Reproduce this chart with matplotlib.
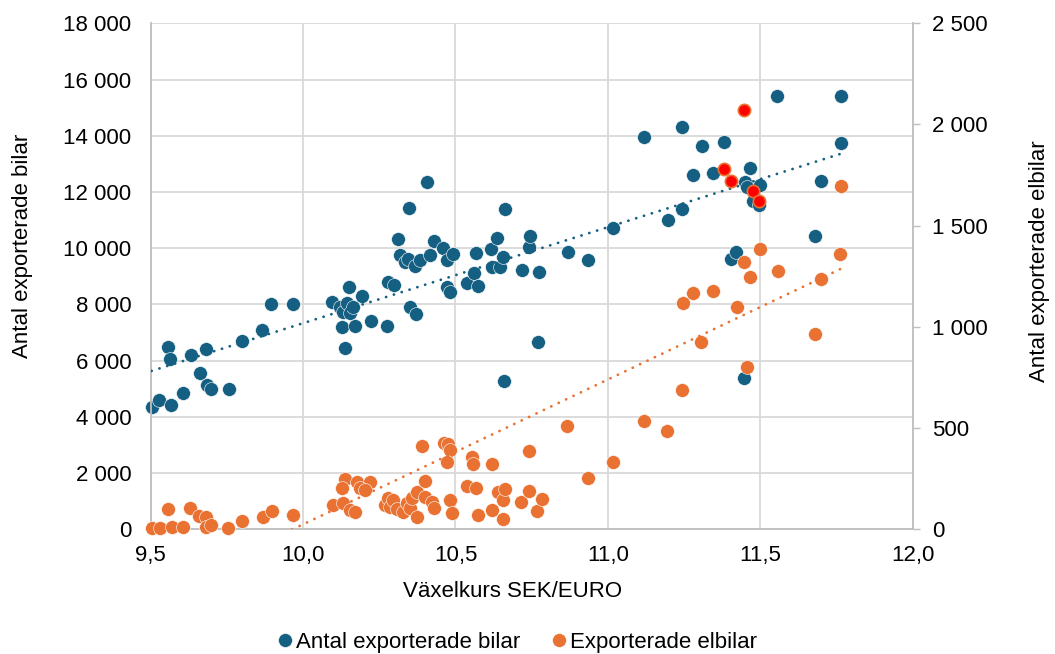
import matplotlib
matplotlib.use("Agg")
import matplotlib.pyplot as plt
from matplotlib.lines import Line2D
from matplotlib.ticker import FuncFormatter, MultipleLocator
import numpy as np

# Växelkurs SEK/EURO och antal exporterade bilar (vänster axel)
bilar_kurs = [
    9.503, 9.529, 9.566, 9.606, 9.558, 9.564, 9.631, 9.680, 9.662, 9.684,
    9.697, 9.756, 9.799, 9.866, 9.895, 9.966,
    10.094, 10.121, 10.132, 10.143, 10.152, 10.154, 10.165, 10.192, 10.127, 10.170,
    10.223, 10.274, 10.137, 10.280, 10.299, 10.311, 10.318, 10.334, 10.345, 10.348,
    10.367, 10.384, 10.405, 10.416, 10.430, 10.460, 10.471, 10.493, 10.350, 10.372,
    10.471, 10.482, 10.537, 10.560, 10.566, 10.575, 10.616, 10.620, 10.637, 10.646,
    10.655, 10.663, 10.659, 10.717, 10.742, 10.745, 10.775, 10.770,
    10.868, 10.935, 11.017, 11.117, 11.196, 11.242, 11.244, 11.280, 11.310, 11.345,
    11.380, 11.404, 11.420, 11.447, 11.450, 11.456, 11.465, 11.475, 11.497, 11.500,
    11.556, 11.680, 11.700, 11.764, 11.764,
]
bilar_antal = [
    4350, 4600, 4430, 4850, 6500, 6060, 6190, 6400, 5570, 5140,
    5000, 4980, 6690, 7100, 8020, 8020,
    8100, 7920, 7740, 8040, 8630, 7680, 7920, 8300, 7210, 7230,
    7410, 7230, 6460, 8810, 8690, 10330, 9760, 9520, 9600, 11440,
    9370, 9580, 12340, 9760, 10270, 9990, 9580, 9790, 7920, 7650,
    8630, 8450, 8770, 9100, 9840, 8650, 9980, 9340, 10350, 9340,
    9700, 11380, 5290, 9220, 10050, 10430, 9160, 6670,
    9870, 9580, 10720, 13940, 11000, 14300, 11380, 12610, 13650, 12690,
    13770, 9600, 9870, 5370, 12360, 12190, 12860, 11680, 11540, 12240,
    15410, 10440, 12390, 15410, 13750,
]

# Exporterade elbilar (höger axel)
elbil_kurs = [
    9.503, 9.530, 9.569, 9.607, 9.558, 9.629, 9.660, 9.680, 9.683, 9.697,
    9.755, 9.799, 9.870, 9.897, 9.966,
    10.099, 10.132, 10.154, 10.170, 10.138, 10.176, 10.220, 10.127, 10.187, 10.203,
    10.269, 10.280, 10.285, 10.296, 10.307, 10.329, 10.340, 10.351, 10.356, 10.373,
    10.373, 10.389, 10.400, 10.400, 10.422, 10.428, 10.461, 10.477, 10.482, 10.471,
    10.482, 10.490, 10.537, 10.553, 10.558, 10.567, 10.575, 10.619, 10.621, 10.640,
    10.657, 10.657, 10.662, 10.714, 10.742, 10.742, 10.769, 10.783,
    10.865, 10.936, 11.016, 11.117, 11.195, 11.244, 11.245, 11.280, 11.306, 11.346,
    11.425, 11.447, 11.457, 11.466, 11.500, 11.557, 11.680, 11.700, 11.760, 11.764,
]
elbil_antal = [
    5, 5, 13, 13, 99, 104, 66, 59, 13, 21,
    5, 42, 62, 92, 71,
    120, 128, 95, 87, 247, 235, 235, 203, 203, 194,
    120, 153, 109, 145, 99, 87, 131, 104, 153, 186,
    59, 413, 240, 158, 136, 104, 428, 421, 392, 334,
    145, 82, 214, 359, 323, 203, 71, 95, 324, 186,
    49, 145, 198, 136, 387, 191, 92, 148,
    510, 252, 334, 537, 486, 688, 1120, 1169, 924, 1179,
    1097, 1319, 803, 1248, 1387, 1276, 963, 1235, 1360, 1698,
]

# Markerade elbilsmånader (röda, ingår i elbilsserien)
mark_kurs = [11.447, 11.380, 11.405, 11.477, 11.497]
mark_elbil = [2072, 1782, 1722, 1673, 1624]

BLUE = "#156082"
ORANGE = "#E97132"
GRID = "#D9D9D9"
AXIS = "#BFBFBF"
FS = 16

plt.rcParams["font.family"] = ["Liberation Sans", "DejaVu Sans"]

fig = plt.figure(figsize=(10.55, 6.54), dpi=100)
ax = fig.add_axes([0.1428, 0.1907, 0.7223, 0.7737])
ax2 = ax.twinx()

ax.set_axisbelow(True)
ax.scatter(bilar_kurs, bilar_antal, s=100, c=BLUE, edgecolors="white",
           linewidths=0.4, zorder=2, clip_on=False)
ax2.scatter(elbil_kurs, elbil_antal, s=100, c=ORANGE, edgecolors="white",
            linewidths=0.4, zorder=2, clip_on=False)
ax2.scatter(mark_kurs, mark_elbil, s=78, c="#FF0000", edgecolors=ORANGE,
            linewidths=1.2, zorder=3, clip_on=False)

# linjära trendlinjer
dots = (0, (0.05, 2.9))
bx = np.array([min(bilar_kurs), max(bilar_kurs)])
k, m = np.polyfit(bilar_kurs, bilar_antal, 1)
ax.plot(bx, k * bx + m, color=BLUE, lw=2, linestyle=dots,
        dash_capstyle="round", zorder=4)
alla_kurs = elbil_kurs + mark_kurs
alla_elbil = elbil_antal + mark_elbil
ex = np.array([min(alla_kurs), max(alla_kurs)])
k2, m2 = np.polyfit(alla_kurs, alla_elbil, 1)
ax2.plot(ex, k2 * ex + m2, color=ORANGE, lw=2, linestyle=dots,
         dash_capstyle="round", zorder=4)

ax.set_xlim(9.5, 12.0)
ax.set_ylim(0, 18000)
ax2.set_ylim(0, 2500)
ax.xaxis.set_major_locator(MultipleLocator(0.5))
ax.yaxis.set_major_locator(MultipleLocator(2000))
ax2.yaxis.set_major_locator(MultipleLocator(500))

space_fmt = FuncFormatter(lambda v, _: f"{v:,.0f}".replace(",", " "))
ax.yaxis.set_major_formatter(space_fmt)
ax2.yaxis.set_major_formatter(space_fmt)
ax.xaxis.set_major_formatter(FuncFormatter(lambda v, _: f"{v:.1f}".replace(".", ",")))

ax.grid(True, color=GRID, lw=1.3)
ax.tick_params(axis="both", length=0, labelsize=FS)
ax.tick_params(axis="y", pad=14)
ax.tick_params(axis="x", pad=11)
ax2.tick_params(axis="y", length=5, width=1, color=AXIS, direction="out",
                labelsize=FS, pad=9)

for name, sp in ax.spines.items():
    sp.set_visible(name in ("left", "bottom"))
    sp.set_color(AXIS)
    sp.set_linewidth(1.3)
for name, sp in ax2.spines.items():
    sp.set_visible(name == "right")
    sp.set_color(AXIS)
    sp.set_linewidth(1.3)

ax.set_xlabel("Växelkurs SEK/EURO", fontsize=FS)
ax.xaxis.set_label_coords(0.475, -0.102)
ax.set_ylabel("Antal exporterade bilar", fontsize=FS)
ax.yaxis.set_label_coords(-0.155, 0.56)
ax2.set_ylabel("Antal exporterade elbilar", fontsize=FS)
ax2.yaxis.set_label_coords(1.153, 0.53)

handles = [
    Line2D([], [], linestyle="none", marker="o", markersize=10,
           markerfacecolor=BLUE, markeredgecolor="white", markeredgewidth=0.4),
    Line2D([], [], linestyle="none", marker="o", markersize=10,
           markerfacecolor=ORANGE, markeredgecolor="white", markeredgewidth=0.4),
]
fig.legend(handles, ["Antal exporterade bilar", "Exporterade elbilar"],
           loc="center", bbox_to_anchor=(517 / 1055, 1 - 642.7 / 654),
           ncol=2, frameon=False, fontsize=FS, handlelength=0.7,
           handletextpad=0.15, columnspacing=1.4, borderpad=0)

fig.savefig("out.png", dpi=100)
